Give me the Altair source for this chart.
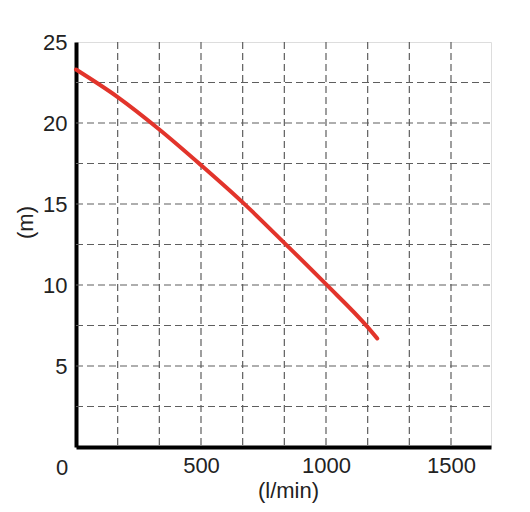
import altair as alt
import pandas as pd

# Curve data (flow l/min vs head m)
flow = [0, 166.7, 333.3, 500, 666.7, 833.3, 1000, 1166.7, 1205]
head = [23.3, 21.6, 19.6, 17.4, 15.1, 12.6, 10.05, 7.4, 6.7]

# Grid positions
x_grid = [166.667, 333.333, 500, 666.667, 833.333, 1000, 1166.667, 1333.333, 1500]
y_grid = [2.5, 5, 7.5, 10, 12.5, 15, 17.5, 20, 22.5]

# Tick labels
x_ticks = [500, 1000, 1500]
y_ticks = [5, 10, 15, 20, 25]
corner_label = ["0"]

X_MAX = 1660
Y_MAX = 25
FONT = "Liberation Sans"

curve_df = pd.DataFrame({"flow": flow, "head": head})
xg_df = pd.DataFrame({"x": x_grid})
yg_df = pd.DataFrame({"y": y_grid})
zero_df = pd.DataFrame({"x": [0], "y": [0], "t": corner_label})

xscale = alt.Scale(domain=[0, X_MAX], nice=False, zero=True)
yscale = alt.Scale(domain=[0, Y_MAX], nice=False, zero=True)

grid_style = dict(color="#5e5e5e", strokeWidth=1.2, strokeDash=[7, 4])

vgrid = alt.Chart(xg_df).mark_rule(**grid_style).encode(
    x=alt.X("x:Q", scale=xscale,
            axis=alt.Axis(values=x_ticks, format="d", title="(l/min)", grid=False, ticks=False,
                          domainColor="black", domainWidth=4, labelFont=FONT,
                          labelFontSize=22, labelColor="#222", labelPadding=8,
                          titleFont=FONT, titleFontSize=22, titleFontWeight="normal",
                          titleColor="#222", titleBaseline="middle",
                          titleX=212, titleY=43)),
    y=alt.value(0),
    y2=alt.value(405),
)

hgrid = alt.Chart(yg_df).mark_rule(**grid_style).encode(
    y=alt.Y("y:Q", scale=yscale,
            axis=alt.Axis(values=y_ticks, format="d", title="(m)", grid=False, ticks=False,
                          domainColor="black", domainWidth=4, labelFont=FONT,
                          labelFontSize=22, labelColor="#222", labelPadding=9,
                          titleFont=FONT, titleFontSize=22, titleFontWeight="normal",
                          titleColor="#222", titleAngle=-90, titleAlign="center",
                          titleBaseline="middle", titleX=-51, titleY=180)),
    x=alt.value(0),
    x2=alt.value(415),
)

curve = alt.Chart(curve_df).mark_line(
    color="#e2342b", strokeWidth=4, interpolate="monotone", strokeCap="round"
).encode(
    x=alt.X("flow:Q", scale=xscale),
    y=alt.Y("head:Q", scale=yscale),
)

zero = alt.Chart(zero_df).mark_text(
    font=FONT, fontSize=22, color="#222", align="center", baseline="middle",
    dx=-14, dy=21
).encode(
    x=alt.X("x:Q", scale=xscale),
    y=alt.Y("y:Q", scale=yscale),
    text="t:N",
)

chart = alt.layer(vgrid, hgrid, curve, zero).properties(
    width=415, height=405,
    autosize=alt.AutoSizeParams(type="none"),
    padding={"left": 76, "top": 42, "right": 39, "bottom": 65},
).configure_view(stroke=None).configure(background="white")

chart.save("out.html", embed_options={"renderer": "svg", "actions": False})
